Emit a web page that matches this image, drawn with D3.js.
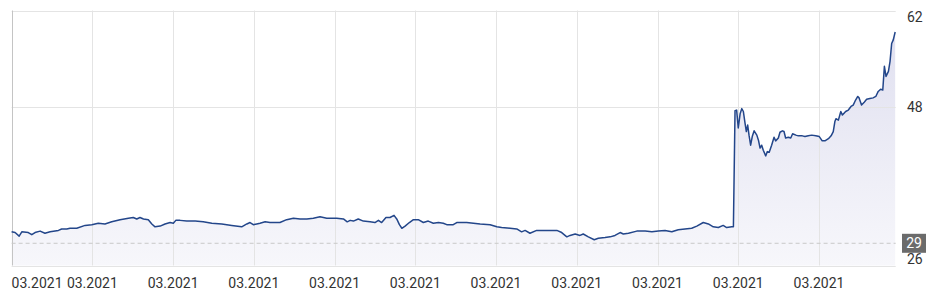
<!DOCTYPE html>
<html>
<head>
<meta charset="utf-8">
<script src="https://cdn.jsdelivr.net/npm/d3@7"></script>
<style>
  html, body { margin: 0; padding: 0; background: #fff; }
  svg { display: block; font-family: Roboto, "Noto Sans", sans-serif; }
</style>
</head>
<body>
<svg id="chart" width="938" height="305"></svg>
<script>
// ---- data ----
const days = [0,1.3,2.8,3.8,6.2,7.5,8.7,10.6,12.4,14.3,17.4,18.6,20.5,21.7,24.2,27.3,29.8,32.2,34.7,37.2,
  40.3,43.4,45.2,46.5,47.7,49.0,50.8,52.1,53.3,55.2,57.0,58.9,60.1,61.0,62.6,65.1,68.2,71.2,74.4,78.1,
  81.8,85.5,87.4,88.6,89.8,91.1,92.3,94.2,96.0,99.7,102.2,104.7,107.2,109.7,112.1,114.6,117.1,120.8,123.3,124.7,
  125.8,127.0,128.8,130.7,133.2,135.0,136.3,137.5,139.1,140.6,142.1,143.1,144.1,145.0,146.2,147.8,149.3,151.1,153.0,154.8,
  156.7,158.6,160.4,161.7,164.1,165.4,169.1,174.1,177.8,180.3,182.1,185.2,187.7,189.5,190.8,192.6,195.1,198.2,202.6,204.4,
  206.3,207.5,209.4,211.2,212.4,214.3,216.5,218.0,220.5,222.4,224.2,226.1,227.3,229.2,232.3,235.4,237.9,240.3,242.8,245.3,
  247.7,250.2,252.7,254.6,257.0,258.9,260.7,262.6,264.4,265.7,267.6,268.2,268.8,269.4,270.0,270.7,271.3,271.9,272.5,273.0,
  273.5,274.0,274.6,275.2,275.9,276.9,277.5,278.1,278.7,279.3,280.2,280.8,281.5,282.4,283.3,283.9,284.9,285.5,286.4,287.0,
  287.6,288.6,289.5,290.2,291.4,292.3,293.8,294.8,296.0,297.3,298.8,300.1,301.2,302.2,303.5,304.5,305.3,305.9,306.3,307.2,
  308.1,308.7,309.9,310.9,311.9,312.7,313.6,314.4,314.9,315.8,316.8,317.7,318.9,320.1,321.1,322.0,322.9,323.7,324.3,324.9,
  325.8,326.4,327.0,327.6,328.3];
const prices = [30.6,30.5,30.0,30.6,30.5,30.2,30.5,30.7,30.4,30.6,30.8,31.0,31.0,31.1,31.1,31.5,31.6,31.8,31.7,32.0,
  32.3,32.5,32.6,32.4,32.6,32.4,32.3,31.7,31.3,31.4,31.7,31.9,31.8,32.2,32.2,32.1,32.1,32.0,31.8,31.7,
  31.5,31.3,31.7,31.9,31.6,31.7,31.8,32.0,31.9,31.9,32.3,32.5,32.4,32.4,32.5,32.7,32.5,32.5,32.4,32.0,
  32.2,32.1,32.4,32.1,32.0,31.9,32.2,31.9,32.6,32.6,32.9,32.4,31.6,31.1,31.4,31.9,32.3,32.3,31.9,32.1,
  31.8,31.9,31.8,31.6,31.6,31.9,31.9,31.7,31.6,31.3,31.2,31.1,31.0,30.6,30.8,30.4,30.8,30.8,30.8,30.5,
  29.9,30.1,30.3,30.1,30.3,29.9,29.5,29.7,29.8,29.9,30.1,30.5,30.3,30.4,30.7,30.7,30.6,30.7,30.8,30.6,
  30.9,31.0,31.1,31.4,31.9,31.7,31.3,31.2,31.5,31.2,31.3,31.3,47.5,47.6,45.1,47.1,47.8,47.4,45.8,44.6,
  45.5,44.1,42.7,43.9,44.7,44.1,43.4,42.3,42.7,42.0,41.2,41.8,41.7,42.7,43.8,43.3,43.7,44.5,44.7,44.6,
  43.7,43.8,43.7,44.3,44.1,44.0,44.0,43.9,44.0,44.1,44.0,43.9,43.3,43.3,43.6,44.0,44.6,46.0,46.4,46.2,
  47.4,46.9,47.4,47.6,48.1,48.3,49.0,49.5,49.3,48.3,48.7,49.1,49.2,49.3,49.5,50.2,50.5,50.4,53.7,52.3,
  53.0,54.4,56.9,57.4,58.5];

const xDomain = [0, 328.5];
const yDomain = [25.9, 61.5];
const xTickDays = [0, 30, 60, 90, 120, 150, 180, 210, 240, 270, 300];
const xTickLabels = ["03.2021","03.2021","03.2021","03.2021","03.2021","03.2021","03.2021","03.2021","03.2021","03.2021","03.2021"];
const yTicks = [25.9, 48, 61.5];
const refValue = 29.0;
const refLabel = "29";

// ---- layout ----
const plotLeft = 11.6, plotRight = 895.7, plotTop = 10.5, plotBottom = 265.5;
const svg = d3.select("#chart");
const x = d3.scaleLinear().domain(xDomain).range([plotLeft, plotRight]);
const y = d3.scaleLinear().domain(yDomain).range([plotBottom, plotTop]);

const data = days.map((d, i) => ({ d, v: prices[i] }));

// gradient
const defs = svg.append("defs");
const grad = defs.append("linearGradient")
  .attr("id", "fillGrad").attr("gradientUnits", "userSpaceOnUse")
  .attr("x1", 0).attr("x2", 0).attr("y1", plotTop).attr("y2", plotBottom);
grad.append("stop").attr("offset", "0%").attr("stop-color", "#dedeef");
grad.append("stop").attr("offset", "100%").attr("stop-color", "#f7f7fb");

// area
svg.append("path").datum(data)
  .attr("fill", "url(#fillGrad)")
  .attr("d", d3.area().x(p => x(p.d)).y0(plotBottom).y1(p => y(p.v)));

// grid lines
const grid = svg.append("g");
grid.selectAll("line.v").data(xTickDays.filter(d => d > 0)).join("line")
  .attr("x1", d => Math.round(x(d)) + 0.5).attr("x2", d => Math.round(x(d)) + 0.5)
  .attr("y1", plotTop).attr("y2", plotBottom)
  .attr("stroke", "#e4e4e4").attr("stroke-width", 1);
grid.selectAll("line.h").data(yTicks).join("line")
  .attr("x1", plotLeft).attr("x2", plotRight)
  .attr("y1", d => Math.round(y(d)) + 0.5).attr("y2", d => Math.round(y(d)) + 0.5)
  .attr("stroke", "#e4e4e4").attr("stroke-width", 1);
// left border
svg.append("line")
  .attr("x1", Math.round(plotLeft) + 0.5).attr("x2", Math.round(plotLeft) + 0.5)
  .attr("y1", plotTop).attr("y2", plotBottom)
  .attr("stroke", "#c4c4c4").attr("stroke-width", 1);

// reference dashed line
svg.append("line")
  .attr("x1", plotLeft).attr("x2", plotRight)
  .attr("y1", y(refValue)).attr("y2", y(refValue))
  .attr("stroke", "#c8c8c8").attr("stroke-width", 1)
  .attr("stroke-dasharray", "4,3");

// price line
svg.append("path").datum(data)
  .attr("fill", "none")
  .attr("stroke", "#23468a")
  .attr("stroke-width", 1.5)
  .attr("stroke-linejoin", "round")
  .attr("d", d3.line().x(p => x(p.d)).y(p => y(p.v)));

// x labels
svg.append("g").selectAll("text").data(xTickDays).join("text")
  .attr("x", d => x(d))
  .attr("y", 288)
  .attr("text-anchor", d => d === 0 ? "start" : "middle")
  .attr("font-size", 14)
  .attr("fill", "#333")
  .text((d, i) => xTickLabels[i]);

// y labels (right side)
const fmt = d3.format(".0f");
svg.append("g").selectAll("text").data(yTicks).join("text")
  .attr("x", 907)
  .attr("y", d => Math.max(17, Math.min(259, y(d))))
  .attr("dy", "0.35em")
  .attr("font-size", 14)
  .attr("fill", "#333")
  .text(d => fmt(d));

// reference value badge
const ry = y(refValue);
svg.append("rect")
  .attr("x", 902).attr("y", ry - 9.5).attr("width", 24).attr("height", 19)
  .attr("fill", "#6b6b6b");
svg.append("text")
  .attr("x", 914).attr("y", ry).attr("dy", "0.35em")
  .attr("text-anchor", "middle")
  .attr("font-size", 14).attr("fill", "#fff")
  .text(refLabel);
</script>
</body>
</html>
